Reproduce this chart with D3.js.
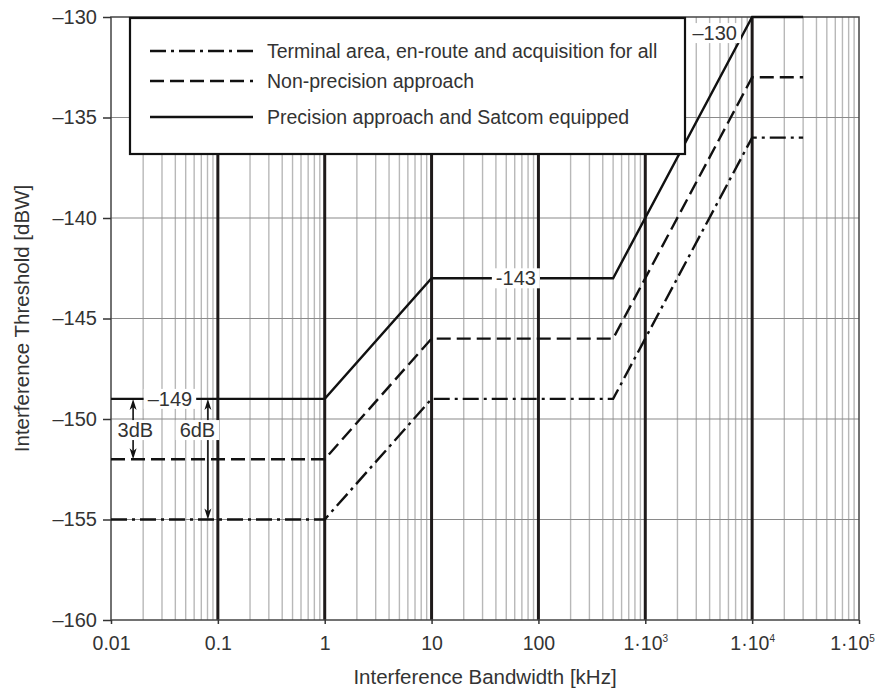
<html>
<script src="https://d3js.org/d3.v7.js"></script>
<body style="margin:0;background:#fff;">
<style>
    text { font-family: "Liberation Sans", Arial, sans-serif; fill: #333; }
</style>
<div id="chart"></div>
<script>
    // bandwidth breakpoints [kHz] and thresholds [dBW] for each curve
    let bandwidth = [0.01, 1, 10, 500, 1e4, 3e4];
    let terminal = [-155, -155, -149, -149, -136, -136];
    let nonPrecision = [-152, -152, -146, -146, -133, -133];
    let precision = [-149, -149, -143, -143, -130, -130];
    let seriesNames = ["Terminal area, en-route and acquisition for all",
        "Non-precision approach",
        "Precision approach and Satcom equipped"];

    let xTickValues = [0.01, 0.1, 1, 10, 100, 1e3, 1e4, 1e5];
    let xTickBase = ["0.01", "0.1", "1", "10", "100", "1\u00b710", "1\u00b710", "1\u00b710"];
    let xTickExp = ["", "", "", "", "", "3", "4", "5"];
    let yTickValues = [-160, -155, -150, -145, -140, -135, -130];
    let yTickLabels = ["\u2013160", "\u2013155", "\u2013150", "\u2013145", "\u2013140", "\u2013135", "\u2013130"];

    let width = 881, height = 695;
    let svg = d3.select('#chart').append('svg').attr('width', width).attr('height', height);

    let x = d3.scaleLog().domain([0.01, 1e5]).range([111, 859]);
    let y = d3.scaleLinear().domain([-160, -130]).range([620, 17]);

    // minor vertical grid (2..9 in every decade)
    let minor = [];
    for (let d = -2; d <= 4; d++) {
        for (let k = 2; k <= 9; k++) minor.push(k * Math.pow(10, d));
    }
    svg.append('g').selectAll('line').data(minor).join('line')
        .attr('x1', d => x(d)).attr('x2', d => x(d))
        .attr('y1', y(-130)).attr('y2', y(-160))
        .attr('stroke', '#b8b8b8').attr('stroke-width', 1.4);

    // horizontal grid
    svg.append('g').selectAll('line').data(yTickValues.slice(1, -1)).join('line')
        .attr('x1', x(0.01)).attr('x2', x(1e5))
        .attr('y1', d => y(d)).attr('y2', d => y(d))
        .attr('stroke', '#8a8a8a').attr('stroke-width', 1.2);

    // heavy decade lines
    svg.append('g').selectAll('line').data(xTickValues.slice(1, -1)).join('line')
        .attr('x1', d => x(d)).attr('x2', d => x(d))
        .attr('y1', y(-130)).attr('y2', y(-160))
        .attr('stroke', '#1e1a1a').attr('stroke-width', 3);

    // frame
    svg.append('rect')
        .attr('x', x(0.01)).attr('y', y(-130))
        .attr('width', x(1e5) - x(0.01)).attr('height', y(-160) - y(-130))
        .attr('fill', 'none').attr('stroke', '#444').attr('stroke-width', 1.5);

    // axes
    let xAxis = svg.append('g')
        .attr('transform', `translate(0,${y(-160)})`)
        .call(d3.axisBottom(x).tickValues(xTickValues)
            .tickFormat((d, i) => xTickBase[i]).tickSize(4).tickPadding(12));
    xAxis.select('.domain').remove();
    xAxis.selectAll('.tick line').attr('stroke', '#333').attr('stroke-width', 1.5);
    xAxis.selectAll('.tick text').attr('font-size', 19.5).attr('fill', '#333')
        .attr('dx', (d, i) => i === xTickValues.length - 1 ? -7 : 0)
        .append('tspan').text((d, i) => xTickExp[i])
        .attr('font-size', 10).attr('dy', '-0.8em');

    let yAxis = svg.append('g')
        .attr('transform', `translate(${x(0.01)},0)`)
        .call(d3.axisLeft(y).tickValues(yTickValues)
            .tickFormat((d, i) => yTickLabels[i]).tickSize(8).tickPadding(6));
    yAxis.select('.domain').remove();
    yAxis.selectAll('.tick line').attr('stroke', '#333').attr('stroke-width', 1.5);
    yAxis.selectAll('.tick text').attr('font-size', 20).attr('fill', '#333');

    svg.append('text')
        .attr('x', (x(0.01) + x(1e5)) / 2).attr('y', 684)
        .attr('text-anchor', 'middle').attr('font-size', 20.5)
        .text('Interference Bandwidth [kHz]');
    svg.append('text')
        .attr('transform', `translate(29,${(y(-130) + y(-160)) / 2}) rotate(-90)`)
        .attr('text-anchor', 'middle').attr('font-size', 20.5)
        .text('Interference Threshold [dBW]');

    // curves
    let dashes = ['16,5,3,5', '14,6', null];
    let series = [terminal, nonPrecision, precision];
    let line = d3.line().x((d, i) => x(bandwidth[i])).y(d => y(d));
    svg.append('g').selectAll('path').data(series).join('path')
        .attr('d', d => line(d))
        .attr('fill', 'none').attr('stroke', '#111').attr('stroke-width', 2.4)
        .attr('stroke-dasharray', (d, i) => dashes[i]);

    // annotation arrows
    function arrow(xv, y0, y1) {
        let px = x(xv), a = y(y0), b = y(y1);
        let g = svg.append('g');
        g.append('line').attr('x1', px).attr('x2', px).attr('y1', a + 4).attr('y2', b - 4)
            .attr('stroke', '#111').attr('stroke-width', 1.6);
        g.append('path').attr('d', `M${px},${a} L${px - 3.5},${a + 11} L${px},${a + 8} L${px + 3.5},${a + 11} Z`)
            .attr('fill', '#111');
        g.append('path').attr('d', `M${px},${b} L${px - 3.5},${b - 11} L${px},${b - 8} L${px + 3.5},${b - 11} Z`)
            .attr('fill', '#111');
    }
    arrow(0.0161, -149, -152);
    arrow(0.0807, -149, -155);

    function label(txt, xv, yv) {
        let g = svg.append('g');
        let t = g.append('text')
            .attr('x', x(xv)).attr('y', y(yv))
            .attr('text-anchor', 'middle').attr('dominant-baseline', 'central')
            .attr('font-size', 20).text(txt);
        let bb = t.node().getBBox();
        g.insert('rect', 'text')
            .attr('x', bb.x - 4).attr('y', bb.y + 1)
            .attr('width', bb.width + 8).attr('height', bb.height - 2)
            .attr('fill', '#fff');
    }
    label('\u2013149', 0.0356, -149);
    label('3dB', 0.0169, -150.55);
    label('6dB', 0.0644, -150.55);
    label('-143', 61.5, -143);
    label('\u2013130', 4467, -130.8);

    // legend
    svg.append('rect')
        .attr('x', 130).attr('y', 18).attr('width', 555).attr('height', 136)
        .attr('fill', '#fff').attr('stroke', '#111').attr('stroke-width', 2.2);
    let rows = [51, 81, 117];
    let legend = svg.append('g').selectAll('g').data(seriesNames).join('g')
        .attr('transform', (d, i) => `translate(0,${rows[i]})`);
    legend.append('line')
        .attr('x1', 150).attr('x2', 253).attr('y1', 0).attr('y2', 0)
        .attr('stroke', '#111').attr('stroke-width', 2.4)
        .attr('stroke-dasharray', (d, i) => dashes[i]);
    legend.append('text')
        .attr('x', 267).attr('y', 0).attr('dominant-baseline', 'central')
        .attr('font-size', 19.5).text(d => d);
</script>
</body>
</html>
